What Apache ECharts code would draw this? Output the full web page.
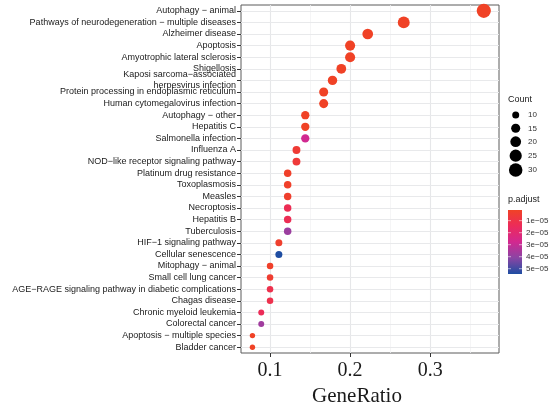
<!DOCTYPE html>
<html>
<head>
<meta charset="utf-8">
<script src="https://cdn.jsdelivr.net/npm/echarts@6/dist/echarts.min.js"></script>
<style>
  html, body { margin: 0; padding: 0; background: #fff; }
  #main { width: 557px; height: 404px; }
</style>
</head>
<body>
<div id="main"></div>
<script>
// KEGG enrichment dot plot
var categories = [
    'Autophagy \u2212 animal',
    'Pathways of neurodegeneration \u2212 multiple diseases',
    'Alzheimer disease',
    'Apoptosis',
    'Amyotrophic lateral sclerosis',
    'Shigellosis',
    'Kaposi sarcoma\u2212associated\nherpesvirus infection',
    'Protein processing in endoplasmic reticulum',
    'Human cytomegalovirus infection',
    'Autophagy \u2212 other',
    'Hepatitis C',
    'Salmonella infection',
    'Influenza A',
    'NOD\u2212like receptor signaling pathway',
    'Platinum drug resistance',
    'Toxoplasmosis',
    'Measles',
    'Necroptosis',
    'Hepatitis B',
    'Tuberculosis',
    'HIF\u22121 signaling pathway',
    'Cellular senescence',
    'Mitophagy \u2212 animal',
    'Small cell lung cancer',
    'AGE\u2212RAGE signaling pathway in diabetic complications',
    'Chagas disease',
    'Chronic myeloid leukemia',
    'Colorectal cancer',
    'Apoptosis \u2212 multiple species',
    'Bladder cancer'
];
var geneRatio = [0.367, 0.267, 0.222, 0.2, 0.2, 0.189, 0.178, 0.167, 0.167, 0.144,
                 0.144, 0.144, 0.133, 0.133, 0.122, 0.122, 0.122, 0.122, 0.122, 0.122,
                 0.111, 0.111, 0.1, 0.1, 0.1, 0.1, 0.089, 0.089, 0.078, 0.078];
var counts = [33, 24, 20, 18, 18, 17, 16, 15, 15, 13,
              13, 13, 12, 12, 11, 11, 11, 11, 11, 11,
              10, 10, 9, 9, 9, 9, 8, 8, 7, 7];
var padj = [1e-6, 1e-6, 1e-6, 1e-6, 1e-6, 1e-6, 1e-6, 1e-6, 1e-6, 1e-6,
            1e-6, 2.8e-5, 5e-6, 6e-6, 2e-6, 2e-6, 3e-6, 1.3e-5, 1.3e-5, 3.8e-5,
            3e-6, 5.44e-5, 2e-6, 4e-6, 1.1e-5, 1.1e-5, 1.4e-5, 3.7e-5, 1e-6, 1e-6];

var xTicks = [0.1, 0.2, 0.3];
var xMinor = [0.15, 0.25, 0.35];
var countBreaks = [10, 15, 20, 25, 30];
var padjBreaks = [1e-5, 2e-5, 3e-5, 4e-5, 5e-5];
var padjLabels = ['1e\u221205', '2e\u221205', '3e\u221205', '4e\u221205', '5e\u221205'];
var padMin = 1.1e-6, padMax = 5.44e-5;
var colorStops = ['#F04226', '#EC2B5A', '#D22890', '#8A45A4', '#1E4DA2'];

function dotSize(c) {
    return Math.sqrt(49 + 6.65 * (c - 10));
}

var chart = echarts.init(document.getElementById('main'));

var points = [];
for (var i = 0; i < categories.length; i++) {
    points.push([geneRatio[i], categories[i], padj[i], counts[i]]);
}

var gridLines = [];
xTicks.forEach(function (v) {
    gridLines.push({xAxis: v, lineStyle: {color: '#E6E7E9', width: 1.1, type: 'solid'}});
});
xMinor.forEach(function (v) {
    gridLines.push({xAxis: v, lineStyle: {color: '#F3F3F4', width: 0.8, type: 'solid'}});
});
categories.forEach(function (c) {
    gridLines.push({yAxis: c, lineStyle: {color: '#E8E9EB', width: 1, type: 'solid'}});
});

// legends drawn by hand (ggplot style)
var graphics = [];
graphics.push({type: 'text', left: 508, top: 95,
    style: {text: 'Count', font: '9px "Liberation Sans"', fill: '#1a1a1a'}});
var countY = [115, 128.3, 141.7, 155.7, 170];
countBreaks.forEach(function (c, k) {
    graphics.push({type: 'circle', shape: {cx: 515.7, cy: countY[k], r: dotSize(c) / 2},
        style: {fill: '#000'}});
    graphics.push({type: 'text', x: 528, y: countY[k],
        style: {text: String(c), font: '8px "Liberation Sans"', fill: '#333', verticalAlign: 'middle'}});
});

var barTop = 210, barH = 64, barX = 508, barW = 14;
graphics.push({type: 'text', left: 508, top: 195,
    style: {text: 'p.adjust', font: '9px "Liberation Sans"', fill: '#1a1a1a'}});
graphics.push({type: 'rect', shape: {x: barX, y: barTop, width: barW, height: barH},
    style: {fill: new echarts.graphic.LinearGradient(0, 0, 0, 1, colorStops.map(function (c, k) {
        return {offset: k / (colorStops.length - 1), color: c};
    }))}});
padjBreaks.forEach(function (v, k) {
    var y = barTop + (v - padMin) / (padMax - padMin) * barH;
    graphics.push({type: 'line', shape: {x1: barX, y1: y, x2: barX + 3, y2: y},
        style: {stroke: 'rgba(255,255,255,0.7)', lineWidth: 0.8}});
    graphics.push({type: 'line', shape: {x1: barX + barW - 3, y1: y, x2: barX + barW, y2: y},
        style: {stroke: 'rgba(255,255,255,0.7)', lineWidth: 0.8}});
    graphics.push({type: 'text', x: 526, y: y,
        style: {text: padjLabels[k], font: '8px "Liberation Sans"', fill: '#333', verticalAlign: 'middle'}});
});

var option = {
    backgroundColor: '#fff',
    animation: false,
    grid: {
        left: 241, right: 58, top: 5, bottom: 51,
        containLabel: false,
        outerBoundsMode: 'none',
        show: true, borderColor: '#5A5A5A', borderWidth: 1, backgroundColor: '#fff'
    },
    xAxis: {
        type: 'value',
        min: 0.0637,
        max: 0.386,
        name: 'GeneRatio',
        nameLocation: 'middle',
        nameGap: 30,
        nameTextStyle: {fontFamily: 'Liberation Serif', fontSize: 21, color: '#1a1a1a', padding: [0, 26, 0, 0]},
        axisLine: {show: false},
        axisTick: {show: true, length: 4, customValues: xTicks, lineStyle: {color: '#333'}},
        axisLabel: {customValues: xTicks, fontFamily: 'Liberation Serif', fontSize: 20, color: '#1a1a1a', margin: 8},
        splitLine: {show: false}
    },
    yAxis: {
        type: 'category',
        inverse: true,
        data: categories,
        axisLine: {show: false},
        axisTick: {show: true, length: 4, alignWithLabel: true, interval: 0, lineStyle: {color: '#333'}},
        axisLabel: {interval: 0, fontFamily: 'Liberation Sans', fontSize: 9, color: '#1a1a1a', margin: 5, lineHeight: 11},
        splitLine: {show: false}
    },
    visualMap: {
        show: false,
        type: 'continuous',
        dimension: 2,
        seriesIndex: 1,
        min: padMin,
        max: padMax,
        inRange: {color: colorStops}
    },
    graphic: graphics,
    series: [
        {
            type: 'scatter',
            data: [],
            z: 1,
            silent: true,
            markLine: {
                z: 1,
                silent: true,
                symbol: ['none', 'none'],
                label: {show: false},
                data: gridLines
            }
        },
        {
            type: 'scatter',
            z: 3,
            clip: false,
            data: points,
            encode: {x: 0, y: 1},
            symbolSize: function (d) { return dotSize(d[3]); },
            itemStyle: {opacity: 1}
        }
    ]
};

chart.setOption(option);
</script>
</body>
</html>
